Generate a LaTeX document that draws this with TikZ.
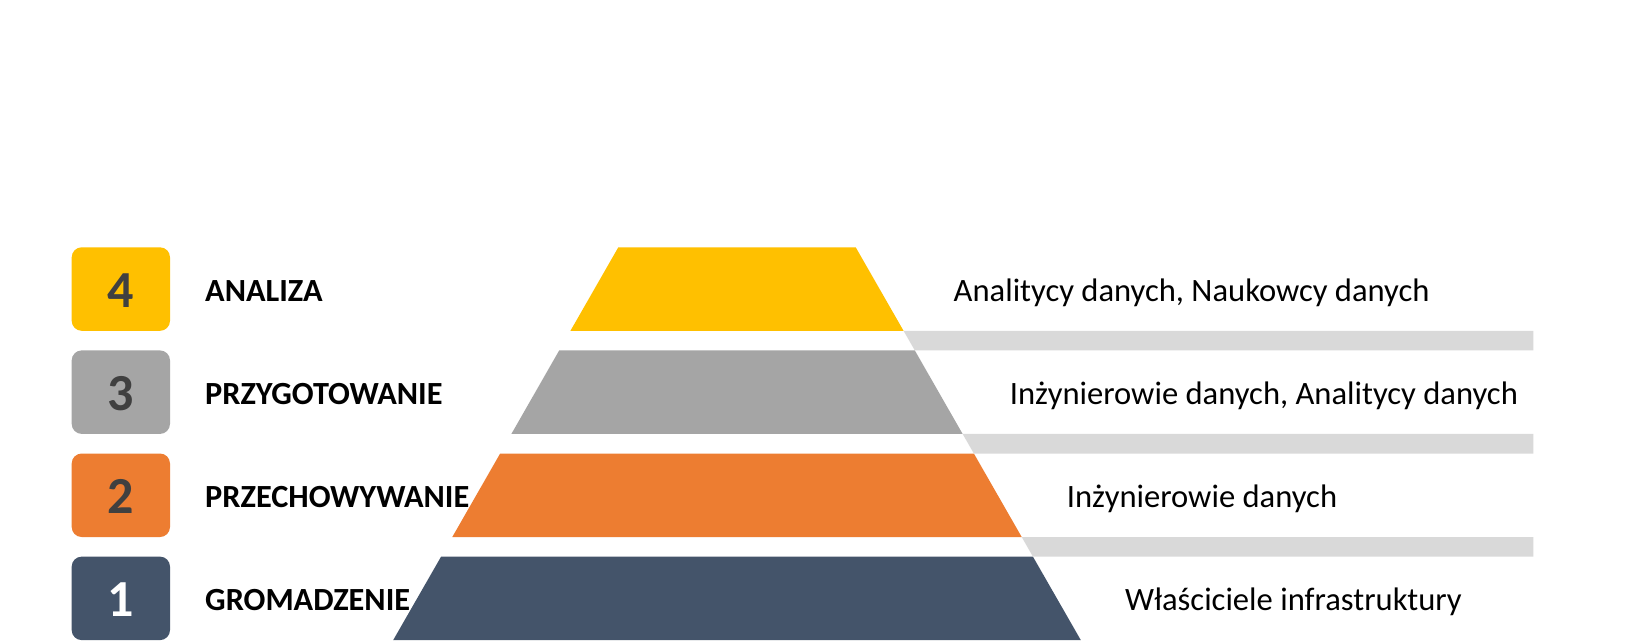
\documentclass[tikz,border=0pt]{standalone}
\usepackage{fontspec}
\setmainfont{Carlito}
\definecolor{cyellow}{HTML}{FFC000}
\definecolor{cgray}{HTML}{A5A5A5}
\definecolor{corange}{HTML}{ED7D31}
\definecolor{cnavy}{HTML}{44546A}
\definecolor{cbar}{HTML}{D9D9D9}
\definecolor{cdigit}{HTML}{404040}
\tikzset{
  numbox/.style={rounded corners=10pt},
  digit/.style={anchor=base, font=\fontsize{52}{60}\selectfont\bfseries, text=cdigit, inner sep=0pt},
  stagelabel/.style={anchor=base west, font=\fontsize{32.3}{38}\selectfont\bfseries, text=black, inner sep=0pt},
  rolelabel/.style={anchor=base west, font=\fontsize{32.6}{38}\selectfont, text=black, inner sep=0pt},
  gapbar/.style={fill=cbar}
}
\begin{document}
\begin{tikzpicture}[x=1pt,y=-1pt]
\useasboundingbox[fill=white] (0,0) rectangle (1627,640);
% pyramid layers
\fill[cyellow] (618.3,247.3) -- (855.7,247.3) -- (903.55,330.8) -- (570.45,330.8) -- cycle;
\fill[cgray] (559.2,350.4) -- (914.8,350.4) -- (962.6,433.9) -- (511.4,433.9) -- cycle;
\fill[corange] (500.15,453.5) -- (973.85,453.5) -- (1021.7,537) -- (452.3,537) -- cycle;
\fill[cnavy] (441.1,556.6) -- (1032.9,556.6) -- (1080.8,640.1) -- (393.2,640.1) -- cycle;
% gap bars
\fill[gapbar] (903.55,330.8) -- (1533.3,330.8) -- (1533.3,350.4) -- (914.8,350.4) -- cycle;
\fill[gapbar] (962.6,433.9) -- (1533.3,433.9) -- (1533.3,453.5) -- (973.85,453.5) -- cycle;
\fill[gapbar] (1021.7,537) -- (1533.3,537) -- (1533.3,556.6) -- (1032.9,556.6) -- cycle;
% number boxes
\fill[cyellow,numbox] (71.7,247.3) rectangle (170,330.8);
\fill[cgray,numbox] (71.7,350.4) rectangle (170,433.9);
\fill[corange,numbox] (71.7,453.5) rectangle (170,537);
\fill[cnavy,numbox] (71.7,556.6) rectangle (170,640.1);
\node[digit] (d4) at (120.9,307.5) {4};
\node[digit] (d3) at (120.9,410.6) {3};
\node[digit] (d2) at (120.9,513.7) {2};
\node[digit,text=white] (d1) at (120.9,616.8) {1};
% stage labels
\node[stagelabel] (s4) at (205,301.6) {ANALIZA};
\node[stagelabel] (s3) at (205,404.7) {PRZYGOTOWANIE};
\node[stagelabel] (s2) at (205,507.8) {PRZECHOWYWANIE};
\node[stagelabel] (s1) at (205,610.9) {GROMADZENIE};
% role labels
\node[rolelabel] (r4) at (953.5,301.6) {Analitycy danych, Naukowcy danych};
\node[rolelabel] (r3) at (1009.6,404.7) {Inżynierowie danych, Analitycy danych};
\node[rolelabel] (r2) at (1066.6,507.8) {Inżynierowie danych};
\node[rolelabel] (r1) at (1124.8,610.9) {Właściciele infrastruktury};
\end{tikzpicture}
\end{document}
